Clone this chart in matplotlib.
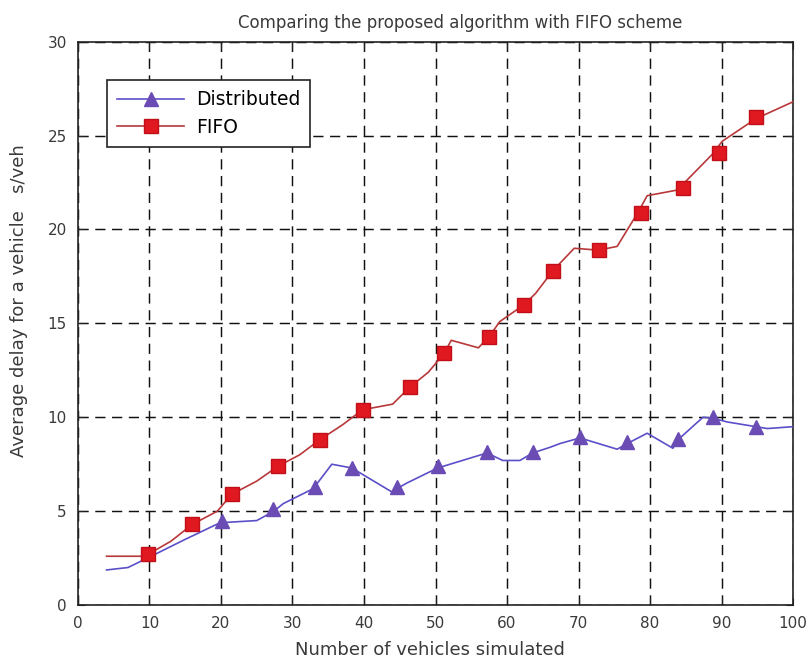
import numpy as np
import matplotlib.pyplot as plt
from matplotlib.lines import Line2D

plt.rcParams["font.family"] = ["DejaVu Sans"]

# ── data ─────────────────────────────────────────────────────────────────────
dist_line_x = [4, 7, 10.5, 15, 19.4, 20.6, 25, 27.4, 28.7, 32.9, 35.5, 38.3,
               44, 44.6, 46, 50.3, 57.2, 59.4, 61.8, 63.6, 66, 67.4, 70.2,
               75.4, 76.8, 79.6, 83.2, 83.9, 87.4, 88.8, 90.8, 94.8, 96.4, 100]
dist_line_y = [1.87, 2.0, 2.65, 3.5, 4.3, 4.4, 4.5, 5.0, 5.4, 6.2, 7.5, 7.3,
               6.0, 6.2, 6.5, 7.3, 8.1, 7.7, 7.7, 8.1, 8.4, 8.6, 8.9,
               8.3, 8.6, 9.15, 8.35, 8.8, 10.0, 9.95, 9.75, 9.5, 9.4, 9.5]
dist_mark_x = [20.1, 27.3, 33.1, 38.3, 44.6, 50.3, 57.2, 63.6, 70.2, 76.8, 83.9, 88.8, 94.8]
dist_mark_y = [4.5, 5.1, 6.3, 7.3, 6.3, 7.4, 8.15, 8.15, 8.95, 8.7, 8.85, 10.0, 9.5]

fifo_line_x = [4, 9, 9.8, 13, 16, 19.5, 21.5, 25, 28, 31, 33.8, 37, 39.8, 44,
               46.4, 49, 51.2, 52.2, 56, 57.5, 59, 62.4, 64, 66.4, 69.4, 72.8,
               75.4, 78.3, 79.6, 83.8, 88.7, 90.1, 94.8, 100]
fifo_line_y = [2.6, 2.6, 2.7, 3.4, 4.3, 5.0, 5.9, 6.6, 7.4, 8.0, 8.8, 9.6, 10.4, 10.7,
               11.6, 12.4, 13.4, 14.1, 13.7, 14.3, 15.1, 16.0, 16.6, 17.8, 19.0, 18.9,
               19.1, 20.9, 21.8, 22.1, 24.0, 24.7, 25.9, 26.8]
fifo_mark_x = [9.8, 16, 21.5, 28, 33.8, 39.8, 46.4, 51.2, 57.5, 62.4, 66.4,
               72.8, 78.8, 84.6, 89.6, 94.8]
fifo_mark_y = [2.7, 4.3, 5.9, 7.4, 8.8, 10.4, 11.6, 13.4, 14.3, 16.0, 17.8,
               18.9, 20.9, 22.2, 24.1, 26.0]

x_ticks = list(range(0, 101, 10))
y_ticks = list(range(0, 31, 5))

DIST_LINE = "#5b4fc8"
DIST_FACE = "#6a4cb4"
FIFO_LINE = "#b8383a"
FIFO_FACE = "#e01820"
TEXT = "#3a3a3a"

# ── figure ───────────────────────────────────────────────────────────────────
fig = plt.figure(figsize=(8.08, 6.62), dpi=100)
ax = fig.add_axes([0.0965, 0.086, 0.885, 0.851])

ax.plot(dist_line_x, dist_line_y, color=DIST_LINE, lw=1.2, zorder=3)
ax.plot(dist_mark_x, dist_mark_y, ls="none", marker="^", ms=10.5,
        mfc=DIST_FACE, mec=DIST_FACE, zorder=4)
ax.plot(fifo_line_x, fifo_line_y, color=FIFO_LINE, lw=1.2, zorder=3)
ax.plot(fifo_mark_x, fifo_mark_y, ls="none", marker="s", ms=10.5,
        mfc=FIFO_FACE, mec="#c01018", zorder=4)

ax.set_xlim(0, 100)
ax.set_ylim(0, 30)
ax.set_xticks(x_ticks)
ax.set_yticks(y_ticks)
ax.tick_params(direction="in", top=True, right=True, labelsize=11, length=5,
               colors="#222222", labelcolor=TEXT)
ax.tick_params(axis="x", pad=8)
ax.tick_params(axis="y", pad=8)
for s in ax.spines.values():
    s.set_color("#222222")
    s.set_linewidth(1.2)
ax.grid(True, color="#111111", ls=(0, (7, 4.5)), lw=1.05)

ax.set_title("Comparing the proposed algorithm with FIFO scheme",
             fontsize=12, pad=10, color=TEXT)
ax.title.set_x(0.535)
ax.set_xlabel("Number of vehicles simulated", fontsize=13, color=TEXT)
ax.xaxis.set_label_coords(0.492, -0.064)
ax.set_ylabel("Average delay for a vehicle   s/veh", fontsize=13, color=TEXT)
ax.yaxis.set_label_coords(-0.07, 0.54)

handles = [
    Line2D([], [], color=DIST_LINE, lw=1.2, marker="^", ms=10.5,
           mfc=DIST_FACE, mec=DIST_FACE, label="Distributed"),
    Line2D([], [], color=FIFO_LINE, lw=1.2, marker="s", ms=10.5,
           mfc=FIFO_FACE, mec="#c01018", label="FIFO"),
]
leg = ax.legend(handles=handles, loc="upper left", bbox_to_anchor=(0.04, 0.932),
                borderaxespad=0, fontsize=13.5, fancybox=False,
                edgecolor="#222222", framealpha=1, handlelength=3.6,
                handletextpad=0.6, borderpad=0.55, labelspacing=0.45)
leg.get_frame().set_linewidth(1.2)

fig.savefig("out.png", dpi=100)
